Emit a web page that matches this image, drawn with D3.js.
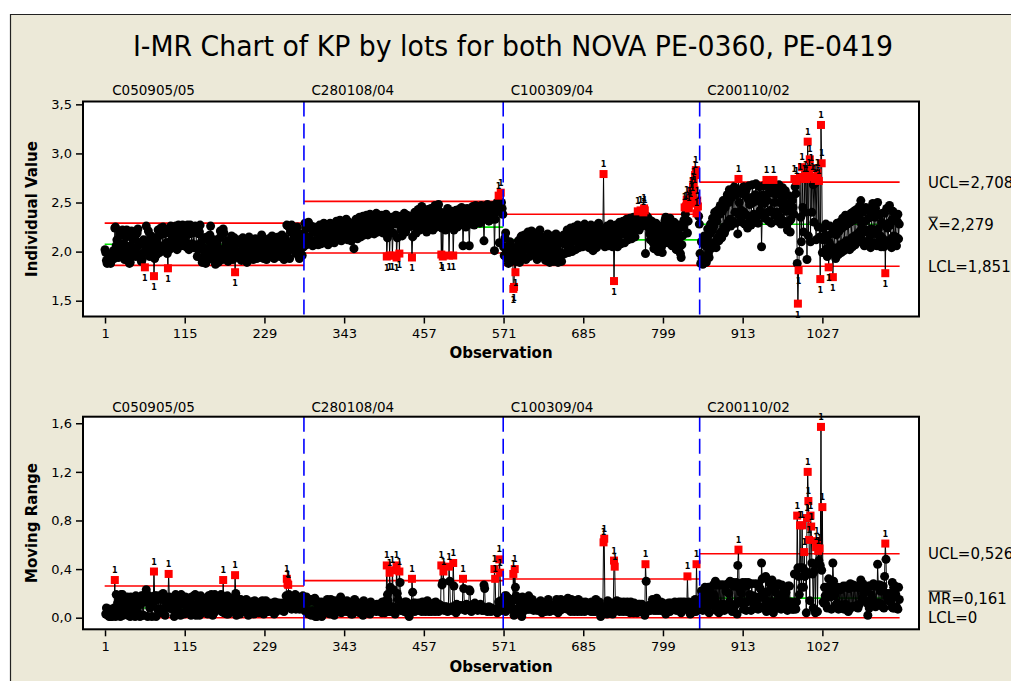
<!DOCTYPE html>
<html><head><meta charset="utf-8">
<script src="https://cdn.jsdelivr.net/npm/d3@7"></script>
<style>body{margin:0;background:#fff}svg{display:block}</style>
</head><body>
<svg id="c" width="1011" height="681"></svg>
<script>
// ---------------- DATA ----------------
const stageNames = ["C050905/05", "C280108/04", "C100309/04", "C200110/02"];
const stage1 = [
2.02,1.99,1.91,1.88,1.90,1.97,1.96,1.89,1.88,1.93,
1.92,1.97,2.01,1.93,2.24,2.25,2.06,2.12,2.00,1.94,
2.09,2.18,2.17,1.98,2.03,2.22,2.20,2.08,1.92,2.00,
2.15,2.22,2.05,2.03,1.94,1.88,1.89,2.06,2.21,2.13,
1.98,2.00,2.14,2.13,1.95,2.04,2.19,2.23,2.09,1.96,
1.97,2.08,1.90,1.92,2.10,2.12,1.99,1.84,2.03,2.26,
2.10,2.09,2.21,2.03,1.95,2.05,2.16,2.15,2.00,2.13,
1.75,1.93,2.11,2.12,1.97,2.04,2.22,2.16,1.99,2.06,
2.24,2.20,2.05,2.25,2.18,2.01,2.03,2.20,2.09,1.98,
1.83,2.19,2.02,2.10,2.26,2.11,2.04,2.13,2.22,2.21,
2.07,2.26,2.19,2.02,2.15,2.27,2.12,2.23,2.25,2.06,
2.10,2.27,2.16,2.13,2.26,2.09,2.05,2.21,2.27,2.18,
2.02,2.18,2.27,2.25,2.08,2.19,2.22,2.04,2.07,2.26,
2.24,2.06,1.95,2.02,2.18,2.20,2.27,2.09,1.93,1.89,
2.05,2.14,2.00,1.93,1.88,2.02,2.15,2.12,1.94,1.99,
2.17,2.26,2.07,1.94,1.92,2.08,2.12,1.93,1.87,2.01,
2.09,1.97,1.89,2.03,2.14,2.21,2.02,1.97,1.92,2.23,
2.19,2.02,1.95,2.08,2.11,1.93,1.90,2.05,2.09,1.96,
2.06,2.16,2.00,1.92,2.05,2.14,1.79,1.99,1.97,2.11,
2.00,1.94,2.09,2.12,1.97,1.91,2.02,2.14,2.03,1.93,
1.99,2.10,1.95,1.89,2.01,2.03,2.15,2.07,1.94,1.98,
2.11,2.04,1.92,1.95,2.09,2.13,2.01,1.93,2.00,2.10,
2.06,1.94,1.99,2.12,2.17,2.03,1.96,1.93,2.05,2.11,
1.97,1.92,1.98,2.08,2.13,2.01,1.95,2.02,2.10,2.16,
2.04,1.96,1.93,2.06,2.14,2.09,1.97,2.04,2.15,2.03,
1.95,2.03,2.11,2.17,2.05,1.97,1.92,2.04,2.13,1.95,
2.27,1.99,2.26,2.07,1.93,2.08,2.20,2.27,2.10,2.02,
2.14,2.24,2.05,1.98,2.16,2.25,2.11,2.00,1.93,2.09,
2.18,2.03,1.96,2.14,2.05];
const stage2 = [
2.18,2.29,2.24,2.07,2.12,2.27,2.30,2.15,2.10,2.24,
2.26,2.11,2.06,2.20,2.25,2.09,2.08,2.22,2.23,2.12,
2.07,2.19,2.27,2.21,2.08,2.09,2.18,2.24,2.29,2.16,
2.10,2.23,2.27,2.12,2.07,2.19,2.26,2.29,2.14,2.10,
2.21,2.25,2.11,2.09,2.18,2.24,2.31,2.17,2.12,2.22,
2.27,2.32,2.15,2.11,2.23,2.29,2.21,2.13,2.20,2.28,
2.33,2.19,2.12,2.22,2.30,2.25,2.14,2.11,2.24,2.27,
2.16,2.03,2.18,2.28,2.33,2.20,2.13,2.23,2.31,2.35,
2.24,2.15,2.26,2.34,2.36,2.22,2.17,2.25,2.32,2.37,
2.26,2.17,2.28,2.35,2.38,2.25,2.19,2.29,2.36,2.27,
2.18,2.27,2.34,2.39,2.28,2.20,2.30,2.37,2.26,2.21,
2.33,2.37,2.24,2.19,2.31,2.35,2.24,2.38,1.95,2.14,
2.28,2.33,1.96,2.21,2.30,2.35,1.96,2.19,2.28,2.32,
2.29,2.37,1.94,2.14,2.29,2.36,1.98,2.27,2.33,2.22,
2.16,2.27,2.34,2.39,2.26,2.20,2.33,2.37,2.25,2.35,
2.36,2.26,2.31,2.26,1.94,2.15,2.27,2.35,2.40,2.28,
2.19,2.27,2.37,2.43,2.31,2.22,2.33,2.41,2.46,2.33,
2.24,2.32,2.42,2.37,2.26,2.20,2.34,2.43,2.38,2.27,
2.33,2.44,2.39,2.29,2.22,2.34,2.42,2.47,2.34,2.25,
2.33,2.43,2.48,2.37,2.30,2.40,1.97,2.24,1.95,2.33,
2.39,2.30,2.22,2.31,2.39,2.44,2.38,1.96,2.26,2.34,
2.40,2.32,2.41,1.96,2.22,2.31,2.38,2.42,2.31,2.25,
2.35,2.43,2.36,2.27,2.37,2.45,2.38,2.06,2.30,2.40,
2.34,2.25,2.36,2.44,2.37,2.29,2.06,2.28,2.38,2.33,
2.39,2.46,2.35,2.27,2.39,2.47,2.40,2.31,2.37,2.45,
2.38,2.29,2.40,2.47,2.41,2.32,2.38,2.11,2.35,2.42,
2.35,2.43,2.48,2.40,2.31,2.39,2.46,2.41,2.33,2.40,
2.47,2.41,2.01,2.33,2.40,2.46,2.50,2.44,2.57,2.09,
2.46,2.60,2.50,2.44,2.38];
const stage3 = [
2.05,1.96,2.14,2.19,2.01,1.93,2.04,1.88,1.95,2.10,
2.02,1.90,2.05,1.98,1.62,1.64,2.04,1.79,1.97,1.90,
2.04,2.11,1.95,1.89,2.02,2.15,2.16,1.99,1.94,2.08,
2.17,2.03,1.92,2.06,2.13,2.20,2.02,1.95,2.05,2.14,
2.21,2.06,1.97,2.03,2.12,2.19,2.10,1.98,1.92,2.01,
2.09,2.16,2.22,2.08,1.99,1.95,2.07,2.15,2.06,1.96,
1.91,2.02,2.12,2.18,2.03,1.94,1.89,1.98,2.08,2.16,
2.06,1.96,1.90,2.01,2.10,2.18,2.03,1.93,1.89,1.99,
2.08,2.14,1.99,1.90,1.97,2.09,2.17,2.08,1.98,2.07,
2.15,2.22,2.06,1.99,2.10,2.19,2.24,2.09,2.00,2.12,
2.20,2.25,2.11,2.02,2.13,2.22,2.27,2.12,2.04,2.14,
2.21,2.26,2.13,2.05,2.15,2.23,2.28,2.15,2.07,2.18,
2.25,2.13,2.04,2.12,2.22,2.27,2.14,2.06,2.01,2.13,
2.21,2.26,2.11,2.04,2.16,2.24,2.29,2.16,2.09,2.08,
2.17,2.23,2.17,2.79,2.14,2.05,2.14,2.23,2.26,2.12,
2.06,2.15,2.24,2.28,2.16,2.08,2.05,2.17,1.70,2.12,
2.21,2.27,2.13,2.05,2.15,2.25,2.30,2.17,2.08,2.18,
2.26,2.31,2.18,2.09,2.19,2.28,2.33,2.20,2.12,2.23,
2.30,2.34,2.21,2.13,2.23,2.31,2.35,2.23,2.15,2.25,
2.32,2.36,2.41,2.30,2.22,2.33,2.42,2.37,2.26,2.35,
2.40,2.44,2.42,1.98,2.28,2.36,2.27,2.34,2.24,2.18,
2.12,2.23,2.31,2.16,2.09,2.03,2.15,2.23,2.29,2.13,
2.06,2.00,2.12,2.20,2.26,2.13,2.05,1.99,2.11,2.19,
2.25,2.32,2.35,2.24,2.15,2.09,2.21,2.29,2.34,2.22,
2.13,2.06,2.15,2.23,2.30,2.17,2.08,2.02,2.13,2.20,
2.27,2.14,2.05,1.98,1.94,2.07,2.16,2.25,2.32,2.45,
2.38,2.46,2.53,2.19,2.31,2.44,2.52,2.49,2.58,2.62,
2.55,2.66,2.71,2.63,2.78,2.83,2.39,2.52,2.46,2.36,
2.28];
const stage4 = [
1.98,1.88,2.10,1.93,1.87,2.08,2.16,1.91,2.06,1.89,
2.12,2.23,1.98,1.94,2.18,2.28,2.03,2.21,2.34,2.07,
2.26,2.40,2.10,2.04,2.31,2.42,2.15,2.11,2.38,2.47,
2.20,2.14,2.41,2.52,2.25,2.19,2.45,2.23,2.50,2.58,
2.30,2.50,2.63,2.33,2.26,2.55,2.60,2.31,2.57,2.66,
2.40,2.29,2.58,2.61,2.18,2.74,2.50,2.36,2.62,2.42,
2.30,2.59,2.66,2.40,2.28,2.57,2.63,2.37,2.24,2.53,
2.67,2.48,2.33,2.27,2.55,2.68,2.50,2.38,2.30,2.58,
2.69,2.52,2.36,2.29,2.57,2.66,2.42,2.50,2.05,2.37,
2.58,2.67,2.49,2.34,2.68,2.73,2.52,2.40,2.31,2.60,
2.66,2.42,2.29,2.60,2.69,2.73,2.50,2.37,2.58,2.66,
2.40,2.31,2.59,2.68,2.50,2.35,2.28,2.55,2.65,2.44,
2.31,2.50,2.62,2.41,2.28,2.22,2.48,2.57,2.31,2.20,
2.33,2.40,2.52,2.45,2.38,2.74,2.66,2.59,2.72,1.88,
1.47,1.81,2.00,2.76,2.35,2.10,2.86,2.45,2.20,2.74,
2.40,2.78,2.74,1.92,3.12,2.16,2.80,2.94,2.10,2.85,
2.40,2.76,2.68,2.30,2.74,2.70,2.12,2.75,2.80,2.25,
2.72,2.15,1.72,3.29,2.90,1.99,2.12,2.24,1.99,2.17,
2.28,2.03,1.95,2.16,1.84,2.09,2.26,2.05,1.98,2.19,
1.74,2.04,2.22,2.03,1.93,2.17,2.29,2.04,1.97,2.21,
2.30,2.07,1.99,2.24,2.34,2.08,2.01,2.26,2.37,2.11,
2.03,2.28,2.33,2.09,2.02,2.30,2.39,2.14,2.05,2.32,
2.41,2.16,2.07,2.33,2.43,2.18,2.10,2.35,2.46,2.21,
2.52,2.28,2.12,2.40,2.20,2.06,2.31,2.45,2.22,2.10,
2.08,2.34,2.42,2.16,2.04,2.23,2.39,2.49,2.21,2.09,
2.35,2.44,2.18,2.06,2.50,2.23,2.11,2.38,2.16,2.05,
2.30,2.39,2.13,2.05,2.39,1.78,2.26,2.44,2.24,2.10,
2.29,2.47,2.27,2.13,2.04,2.33,2.41,2.16,2.08,2.34,
2.15,2.06,2.31,2.38,2.13,2.28];

// control limits per stage
const iUCL = [2.290, 2.512, 2.380, 2.708];
const iCL  = [2.075, 2.249, 2.120, 2.279];
const iLCL = [1.860, 1.986, 1.860, 1.851];
const mrUCL = [0.261, 0.305, 0.318, 0.526];
const mrCL  = [0.080, 0.093, 0.097, 0.161];
const mrLCL = [0, 0, 0, 0];

const xTicks = [1, 115, 229, 343, 457, 571, 685, 799, 913, 1027];
const iTicks = [1.5, 2.0, 2.5, 3.0, 3.5];
const mrTicks = [0.0, 0.4, 0.8, 1.2, 1.6];
const iRightLabels = [["UCL=2,708", 2.708, ""], ["=2,279", 2.279, "X"], ["LCL=1,851", 1.851, ""]];
const mrRightLabels = [["UCL=0,526", 0.526, ""], ["=0,161", 0.161, "MR"], ["LCL=0", 0, ""]];

// ---------------- BUILD ----------------
const stages = [stage1, stage2, stage3, stage4];
const pts = [];
const stageInfo = [];
let obs = 1;
stages.forEach((arr, s) => {
  const start = obs;
  arr.forEach((v, i) => {
    pts.push({obs, v, s, mr: i > 0 ? Math.round(Math.abs(v - arr[i-1]) * 1000) / 1000 : null});
    obs++;
  });
  stageInfo.push({start, end: obs - 1});
});

const svg = d3.select("#c");
const FONT = "'DejaVu Sans', Verdana, sans-serif";
svg.append("rect").attr("width", 1011).attr("height", 681).attr("fill", "#fff");
svg.append("rect").attr("x", 10).attr("y", 14).attr("width", 1001).attr("height", 667).attr("fill", "#ECE9D8");
svg.append("path").attr("d", "M10.5,681V14.5H1011").attr("stroke", "#222").attr("stroke-width", 1.2).attr("fill", "none");

svg.append("text").attr("x", 513).attr("y", 56).attr("text-anchor", "middle")
  .attr("font-family", "'Liberation Sans Narrow','DejaVu Sans Condensed','Arial Narrow',sans-serif")
  .attr("font-size", 29).attr("textLength", 760).attr("lengthAdjust", "spacingAndGlyphs")
  .attr("fill", "#000").text("I-MR Chart of KP by lots for both NOVA PE-0360, PE-0419");

const L = 83, R = 919;
const x = d3.scaleLinear().domain([-30.5, 1165.2]).range([L, R]);
const fmt = v => d3.format(".1f")(v).replace(".", ",");

function panel(cfg) {
  const {top, bottom, y, acc, ucl, cl, lcl, ticks, ylabel, rightLabels, stageLabelY, obsLabelY} = cfg;
  const g = svg.append("g");
  g.append("rect").attr("x", L).attr("y", top).attr("width", R - L).attr("height", bottom - top).attr("fill", "#fff");

  stageInfo.forEach((st, s) => {
    const x0 = x(st.start - 0.5), x1 = x(st.end + 0.5);
    [[ucl[s], "#FF0000"], [lcl[s], "#FF0000"], [cl[s], "#00E000"]].forEach(([val, col]) => {
      g.append("line").attr("x1", x0).attr("x2", x1).attr("y1", y(val)).attr("y2", y(val))
        .attr("stroke", col).attr("stroke-width", 1.6);
    });
  });

  const line = d3.line().x(d => x(d.obs)).y(d => y(acc(d)));
  stageInfo.forEach((st, s) => {
    const seg = pts.filter(d => d.s === s && acc(d) !== null);
    g.append("path").attr("d", line(seg)).attr("fill", "none").attr("stroke", "#000").attr("stroke-width", 1);
  });

  const valid = pts.filter(d => acc(d) !== null);
  const isOut = d => acc(d) > ucl[d.s] + 1e-9 || acc(d) < lcl[d.s] - 1e-9;
  g.selectAll("circle.pt").data(valid.filter(d => !isOut(d))).join("circle")
    .attr("cx", d => x(d.obs)).attr("cy", d => y(acc(d))).attr("r", 4.5).attr("fill", "#000");
  const outs = valid.filter(isOut);
  g.selectAll("rect.out").data(outs).join("rect")
    .attr("x", d => x(d.obs) - 4).attr("y", d => y(acc(d)) - 4).attr("width", 8).attr("height", 8).attr("fill", "#FF0000");
  g.selectAll("text.flag").data(outs).join("text")
    .attr("x", d => x(d.obs)).attr("y", d => acc(d) > ucl[d.s] ? y(acc(d)) - 7 : y(acc(d)) + 14)
    .attr("text-anchor", "middle").attr("font-family", FONT).attr("font-size", 8).attr("font-weight", "bold")
    .attr("fill", "#000").text("1");

  stageInfo.slice(1).forEach(st => {
    g.append("line").attr("x1", x(st.start - 0.5)).attr("x2", x(st.start - 0.5)).attr("y1", top).attr("y2", bottom)
      .attr("stroke", "#0000FF").attr("stroke-width", 1.6).attr("stroke-dasharray", "15,7");
  });
  stageInfo.forEach((st, s) => {
    svg.append("text").attr("x", x(st.start - 0.5) + 7.5).attr("y", stageLabelY)
      .attr("font-family", FONT).attr("font-size", 13.5).attr("fill", "#000").text(stageNames[s]);
  });

  g.append("rect").attr("x", L).attr("y", top).attr("width", R - L).attr("height", bottom - top)
    .attr("fill", "none").attr("stroke", "#000").attr("stroke-width", 2);

  const ya = svg.append("g").attr("transform", `translate(${L - 1},0)`)
    .call(d3.axisLeft(y).tickValues(ticks).tickFormat(fmt).tickSize(6).tickPadding(4));
  ya.select(".domain").remove();
  ya.selectAll("text").attr("font-family", FONT).attr("font-size", 13).attr("fill", "#000");
  ya.selectAll("line").attr("stroke", "#000").attr("stroke-width", 1.5);
  const xa = svg.append("g").attr("transform", `translate(0,${bottom + 1})`)
    .call(d3.axisBottom(x).tickValues(xTicks).tickFormat(d3.format("d")).tickSize(6).tickPadding(5));
  xa.select(".domain").remove();
  xa.selectAll("text").attr("font-family", FONT).attr("font-size", 13).attr("fill", "#000");
  xa.selectAll("line").attr("stroke", "#000").attr("stroke-width", 1.5);

  svg.append("text").attr("x", (L + R) / 2).attr("y", obsLabelY).attr("text-anchor", "middle")
    .attr("font-family", FONT).attr("font-weight", "bold").attr("font-size", 15).attr("fill", "#000").text("Observation");
  svg.append("text").attr("transform", `translate(37,${(top + bottom) / 2}) rotate(-90)`).attr("text-anchor", "middle")
    .attr("font-family", FONT).attr("font-weight", "bold").attr("font-size", 15).attr("fill", "#000").text(ylabel);

  rightLabels.forEach(([txt, val, over]) => {
    const t = svg.append("text").attr("x", 928).attr("y", y(val)).attr("dy", "0.36em")
      .attr("font-family", FONT).attr("font-size", 15).attr("fill", "#000");
    if (over) {
      t.append("tspan").text(over);
      t.append("tspan").text(txt);
      const w = t.node().getSubStringLength(0, over.length);
      svg.append("line").attr("x1", 928.5).attr("x2", 928 + w - 0.5)
        .attr("y1", y(val) - 7).attr("y2", y(val) - 7).attr("stroke", "#000").attr("stroke-width", 1);
    } else t.text(txt);
  });
}

panel({
  top: 101.5, bottom: 316.5,
  y: d3.scaleLinear().domain([1.339, 3.529]).range([316.5, 101.5]),
  acc: d => d.v, ucl: iUCL, cl: iCL, lcl: iLCL, ticks: iTicks,
  ylabel: "Individual Value", rightLabels: iRightLabels, stageLabelY: 95, obsLabelY: 358
});
panel({
  top: 416.7, bottom: 629.3,
  y: d3.scaleLinear().domain([-0.0955, 1.654]).range([629.3, 416.7]),
  acc: d => d.mr, ucl: mrUCL, cl: mrCL, lcl: mrLCL, ticks: mrTicks,
  ylabel: "Moving Range", rightLabels: mrRightLabels, stageLabelY: 412, obsLabelY: 672
});
</script>
</body></html>
